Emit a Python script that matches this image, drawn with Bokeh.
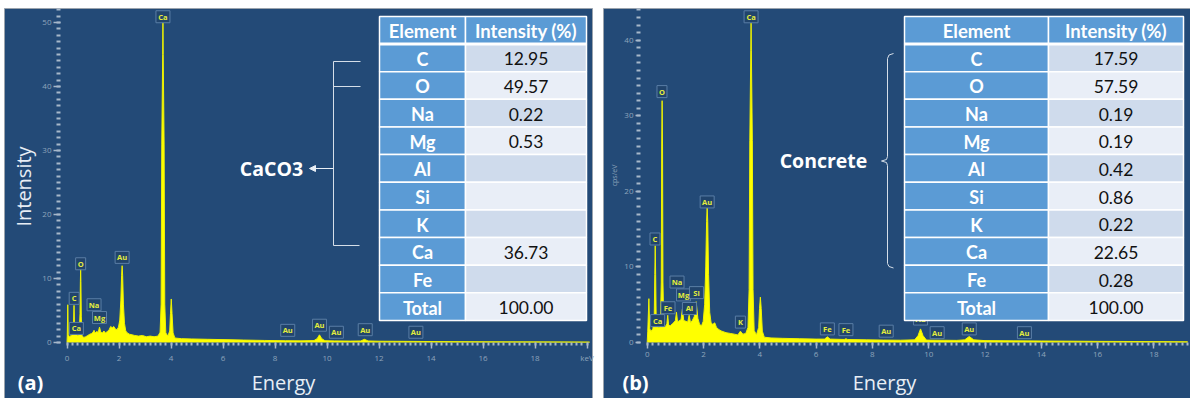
import numpy as np
from bokeh.plotting import figure
from bokeh.models import Range1d, FixedTicker, Label, Arrow, NormalHead
from bokeh.layouts import row
from bokeh.embed import file_html
from bokeh.resources import INLINE
from bokeh.core.properties import value

# ---------------- data ----------------
table_elements = ["C", "O", "Na", "Mg", "Al", "Si", "K", "Ca", "Fe", "Total"]
caco3_values = ["12.95", "49.57", "0.22", "0.53", "", "", "", "36.73", "", "100.00"]
concrete_values = ["17.59", "57.59", "0.19", "0.19", "0.42", "0.86", "0.22", "22.65", "0.28", "100.00"]

a_energy = [0.0, 0.01, 0.03, 0.05, 0.1, 0.16, 0.22, 0.25, 0.27, 0.29, 0.32, 0.36, 0.42, 0.47, 0.5, 0.515,
            0.525, 0.535, 0.55, 0.58, 0.65, 0.72, 0.8, 0.88, 0.95, 1.0, 1.04, 1.08, 1.14, 1.2, 1.25, 1.3,
            1.36, 1.42, 1.48, 1.55, 1.62, 1.68, 1.74, 1.8, 1.86, 1.92, 1.98, 2.03, 2.07, 2.1, 2.12, 2.14,
            2.17, 2.21, 2.26, 2.32, 2.4, 2.5, 2.6, 2.75, 2.9, 3.05, 3.2, 3.35, 3.5, 3.58, 3.62, 3.645,
            3.68, 3.69, 3.70, 3.735, 3.76, 3.8, 3.88, 3.95, 3.98, 4.01, 4.04, 4.08, 4.15, 4.4, 4.8, 5.4,
            6.0, 6.8, 7.6, 8.4, 9.0, 9.5, 9.62, 9.71, 9.8, 9.92, 10.3, 10.9, 11.3, 11.44, 11.58, 12.0,
            13.0, 14.0, 16.0, 18.0, 20.1]
a_counts = [0.0, 1.0, 5.9, 1.2, 0.9, 1.1, 1.4, 2.8, 5.8, 2.6, 1.5, 1.3, 1.1, 1.3, 4.5, 9.5,
            11.6, 9.5, 4.0, 1.0, 0.8, 0.9, 1.1, 1.3, 1.4, 1.6, 1.9, 1.5, 1.7, 1.6, 2.4, 1.6,
            1.5, 1.8, 1.5, 1.7, 2.0, 2.5, 2.3, 2.5, 2.1, 2.0, 2.4, 3.5, 6.5, 10.5, 12.0, 10.5,
            6.0, 3.0, 1.8, 1.5, 1.3, 1.2, 1.1, 1.0, 1.1, 0.9, 1.0, 0.9, 1.0, 1.6, 6.0, 31.0,
            45.0, 50.0, 45.0, 31.0, 6.0, 1.5, 1.0, 1.8, 4.5, 6.8, 4.5, 1.5, 0.7, 0.6, 0.55, 0.5,
            0.45, 0.38, 0.32, 0.28, 0.26, 0.3, 0.6, 1.2, 0.6, 0.28, 0.25, 0.22, 0.24, 0.5, 0.24, 0.2,
            0.18, 0.15, 0.12, 0.1, 0.08]

b_energy = [0.0, 0.02, 0.06, 0.09, 0.14, 0.2, 0.25, 0.27, 0.285, 0.30, 0.32, 0.36, 0.42, 0.47, 0.5, 0.515,
            0.53, 0.545, 0.56, 0.59, 0.65, 0.7, 0.73, 0.76, 0.82, 0.9, 0.96, 1.0, 1.04, 1.08, 1.14, 1.2,
            1.25, 1.3, 1.38, 1.44, 1.49, 1.54, 1.6, 1.67, 1.74, 1.8, 1.86, 1.93, 1.99, 2.04, 2.08, 2.11,
            2.13, 2.15, 2.18, 2.22, 2.27, 2.33, 2.4, 2.46, 2.55, 2.65, 2.8, 2.95, 3.1, 3.22, 3.31, 3.4,
            3.5, 3.58, 3.62, 3.645, 3.68, 3.69, 3.70, 3.735, 3.76, 3.8, 3.88, 3.96, 3.99, 4.02, 4.05, 4.09,
            4.16, 4.4, 4.8, 5.4, 6.0, 6.3, 6.4, 6.5, 7.0, 7.06, 7.12, 7.8, 8.4, 9.0, 9.5, 9.62,
            9.71, 9.8, 9.92, 10.4, 11.0, 11.28, 11.44, 11.6, 12.0, 13.0, 14.0, 16.0, 18.0, 19.2]
b_counts = [0.0, 1.5, 5.8, 1.8, 1.5, 1.8, 3.5, 9.0, 12.8, 9.0, 3.0, 2.2, 2.0, 2.6, 8.0, 26.0,
            32.0, 26.0, 8.0, 2.4, 2.1, 2.5, 3.6, 2.3, 2.2, 2.5, 2.7, 2.9, 4.0, 2.7, 2.9, 3.0,
            4.4, 2.9, 2.8, 2.7, 3.6, 2.6, 2.9, 3.4, 5.4, 3.2, 2.4, 2.2, 2.8, 5.0, 10.0, 16.0,
            17.9, 16.0, 9.0, 4.0, 2.6, 2.4, 2.6, 2.0, 1.7, 1.5, 1.3, 1.2, 1.1, 1.0, 1.5, 1.1,
            1.2, 2.0, 7.0, 26.7, 38.6, 42.3, 38.6, 26.7, 7.0, 1.6, 1.0, 2.0, 4.5, 6.0, 4.5, 1.5,
            0.7, 0.6, 0.55, 0.5, 0.45, 0.45, 0.75, 0.45, 0.4, 0.5, 0.4, 0.35, 0.32, 0.3, 0.35, 0.9,
            1.8, 0.9, 0.32, 0.3, 0.28, 0.35, 0.8, 0.35, 0.25, 0.22, 0.2, 0.15, 0.12, 0.1]

a_peak_names = ["Ca", "O", "C", "Na", "Mg", "Ca", "Au", "Au", "Au", "Au", "Au", "Au"]
a_peak_energy = [3.69, 0.525, 0.277, 1.04, 1.25, 0.36, 2.12, 8.49, 9.71, 10.36, 11.47, 13.42]
a_peak_level = [50.9, 12.3, 6.9, 5.9, 3.9, 2.2, 13.3, 1.9, 2.7, 1.6, 2.0, 1.6]

b_peak_names = ["Ca", "O", "C", "Na", "Mg", "Si", "Al", "Fe", "Ca", "Au", "K", "Fe", "Fe", "Au",
                "Au", "Au", "Au", "Au"]
b_peak_energy = [3.69, 0.525, 0.277, 1.06, 1.29, 1.75, 1.50, 0.74, 0.37, 2.13, 3.31, 6.40, 7.06, 8.49,
                 9.71, 10.3, 11.44, 13.4]
b_peak_level = [43.1, 33.2, 13.7, 8.0, 6.3, 6.6, 4.5, 4.6, 2.9, 18.6, 2.7, 1.8, 1.7, 1.5,
                3.1, 1.3, 1.8, 1.3]

a_xticks = [0, 2, 4, 6, 8, 10, 12, 14, 16, 18, 20]
b_xticks = [0, 2, 4, 6, 8, 10, 12, 14, 16, 18]
a_yticks = [0, 10, 20, 30, 40, 50]
b_yticks = [0, 10, 20, 30, 40]

# ---------------- style ----------------
BG = "#234a77"
TICK = "#a7b8ca"
TICKLBL = "#8ea4bb"
YELLOW = "#ffff00"
CELL_BLUE = "#5b9bd5"
CELL_DARK = "#cfdbec"
CELL_LIGHT = "#e9eef7"
LBL_FILL = "#21446c"
LBL_LINE = "#5a7ea6"
LBL_TEXT = "#e4ee3c"


def make_panel(page_x0, page_x1, panel_x0, panel_x1, x0px, pxk, y0px, pyu,
               energy, counts, xticks, yticks, xmax_minor, ymax_minor, overrides, yaxis_px,
               tick_out, names, energies, levels):
    W = page_x1 - page_x0
    xr = ((page_x0 - x0px) / pxk, (page_x1 - x0px) / pxk)
    yr = ((y0px - 398) / pyu, (y0px - 0) / pyu)
    p = figure(width=W, height=398, x_range=Range1d(*xr), y_range=Range1d(*yr),
               output_backend="svg", toolbar_location=None, title=None,
               min_border_left=0, min_border_right=0, min_border_top=0, min_border_bottom=0)
    p.extra_x_ranges = {"px": Range1d(page_x0, page_x1)}
    p.extra_y_ranges = {"py": Range1d(398, 0)}
    p.background_fill_color = "white"
    p.border_fill_color = "white"
    p.outline_line_color = None
    p.grid.visible = False

    # dark panel
    p.quad(left=[panel_x0], right=[panel_x1], bottom=[398], top=[8], fill_color=BG,
           line_color="#9aa3ad", line_width=1, x_range_name="px", y_range_name="py")

    p.xaxis.ticker = FixedTicker(ticks=xticks,
                                 minor_ticks=[i * 0.2 for i in range(0, int(round(xmax_minor / 0.2)) + 1)])
    p.yaxis.ticker = FixedTicker(ticks=yticks, minor_ticks=list(range(0, ymax_minor + 1)))
    p.xaxis.fixed_location = 0
    p.yaxis.fixed_location = (yaxis_px - x0px) / pxk
    p.xaxis.bounds = (0, xmax_minor)
    p.yaxis.bounds = (0, ymax_minor)
    if overrides:
        p.xaxis.major_label_overrides = overrides
    for ax in (p.xaxis, p.yaxis):
        ax.axis_line_color = None
        ax.major_tick_line_color = TICK
        ax.minor_tick_line_color = TICK
        ax.major_tick_line_width = 1.5
        ax.minor_tick_line_width = 2
        ax.major_tick_in = 0
        ax.minor_tick_in = 0
        ax.major_label_text_color = TICKLBL
        ax.major_label_text_font = "Open Sans"
        ax.major_label_text_font_size = "8px"
    p.yaxis.major_tick_out = tick_out
    p.yaxis.minor_tick_out = 4
    p.yaxis.major_label_standoff = 2
    p.xaxis.major_tick_out = 6
    p.xaxis.minor_tick_out = 3
    p.xaxis.major_label_standoff = 3

    # spectrum
    p.varea(x=energy, y1=0, y2=counts, fill_color=YELLOW)
    p.line(energy, counts, line_color="#eef200", line_width=1)

    # peak labels
    widths = [14 if len(n) > 1 else 10 for n in names]
    p.rect(x=energies, y=levels, width=widths, height=12, width_units="screen",
           height_units="screen", fill_color=LBL_FILL, line_color=LBL_LINE, line_width=1)
    p.text(x=energies, y=levels, text=names, text_align="center", text_baseline="middle",
           text_font=value("Open Sans"), text_font_style="bold", text_font_size="7.5px",
           text_color=LBL_TEXT)
    return p


def add_table(p, values, x0, x1, x2):
    top, hb, rh = 16.0, 43.5, 27.65
    kw = dict(x_range_name="px", y_range_name="py")
    p.rect(x=[(x0 + x1) / 2, (x1 + x2) / 2], y=[(top + hb) / 2] * 2, width=[x1 - x0, x2 - x1],
           height=hb - top, fill_color=CELL_BLUE, line_color="white", line_width=1.5, **kw)
    p.text(x=[(x0 + x1) / 2, (x1 + x2) / 2], y=[(top + hb) / 2 + 1] * 2,
           text=["Element", "Intensity (%)"], text_align="center", text_baseline="middle",
           text_font=value("Lato"), text_font_style="bold", text_font_size="18.5px",
           text_color="white", **kw)
    n = len(table_elements)
    ys = [hb + rh * (i + 0.5) for i in range(n)]
    p.rect(x=[(x0 + x1) / 2] * n, y=ys, width=x1 - x0, height=rh, fill_color=CELL_BLUE,
           line_color="white", line_width=1.5, **kw)
    p.rect(x=[(x1 + x2) / 2] * n, y=ys, width=x2 - x1, height=rh,
           fill_color=[CELL_DARK if i % 2 == 0 else CELL_LIGHT for i in range(n)],
           line_color="white", line_width=1.5, **kw)
    p.segment(x0=[x0], y0=[hb], x1=[x2], y1=[hb], line_color="white", line_width=3, **kw)
    p.text(x=[(x0 + x1) / 2] * n, y=[y + 1 for y in ys], text=table_elements, text_align="center",
           text_baseline="middle", text_font=value("Lato"), text_font_style="bold",
           text_font_size="18px", text_color="white", **kw)
    p.text(x=[(x1 + x2) / 2] * n, y=[y + 1 for y in ys], text=values, text_align="center",
           text_baseline="middle", text_font=value("Lato"), text_font_size="17.5px",
           text_color="#111111", **kw)


def add_label(p, x, y, text, size, bold=False, angle=0.0, color="#e8eef5"):
    p.add_layout(Label(x=x, y=y, x_range_name="px", y_range_name="py", text=text, angle=angle,
                       text_align="center", text_baseline="middle", text_font="Open Sans",
                       text_font_size=size, text_font_style="bold" if bold else "normal",
                       text_color=color))


# ---------------- panel (a) ----------------
pa = make_panel(0, 597, 4, 592, 66.5, 26.0, 342.0, 6.4,
                a_energy, a_counts, a_xticks, a_yticks, 20, 52, {20: "keV"}, 60, 7,
                a_peak_names, a_peak_energy, a_peak_level)
kw = dict(x_range_name="px", y_range_name="py", line_color="#d5dee8", line_width=1)
pa.multi_line(xs=[[360, 333, 333, 359], [333, 360]], ys=[[61, 61, 245, 245], [86, 86]], **kw)
pa.add_layout(Arrow(end=NormalHead(size=6, fill_color="#e8eef5", line_color="#e8eef5"),
                    x_start=333, y_start=168, x_end=309, y_end=168, x_range_name="px",
                    y_range_name="py", line_color="#e8eef5", line_width=1.2))
add_label(pa, 271, 168, "CaCO3", "19.5px", bold=True, color="white")
add_table(pa, caco3_values, 379, 465, 586)
add_label(pa, 23, 186, "Intensity", "20px", angle=np.pi / 2)
add_label(pa, 283, 382, "Energy", "20px")
add_label(pa, 30, 382, "(a)", "20px", bold=True, color="white")

# ---------------- panel (b) ----------------
pb = make_panel(597, 1190, 603, 1190, 646.7, 28.15, 342.0, 7.557,
                b_energy, b_counts, b_xticks, b_yticks, 19.2, 44, None, 640, 5,
                b_peak_names, b_peak_energy, b_peak_level)
pb.line(x=[893, 888.5, 887, 887, 886, 881, 886, 887, 887, 888.5, 893],
        y=[53, 54.5, 58, 156, 159, 160.5, 162, 165, 263, 266, 267.5],
        x_range_name="px", y_range_name="py", line_color="#d5dee8", line_width=1)
add_label(pb, 823, 160, "Concrete", "19.5px", bold=True, color="white")
add_table(pb, concrete_values, 904, 1048, 1183)
add_label(pb, 614, 175, "cps/eV", "7px", angle=np.pi / 2, color=TICKLBL)
add_label(pb, 884, 382, "Energy", "20px")
add_label(pb, 635, 382, "(b)", "20px", bold=True, color="white")

layout = row(pa, pb, spacing=0)
open("out.html", "w").write(file_html(layout, INLINE))
